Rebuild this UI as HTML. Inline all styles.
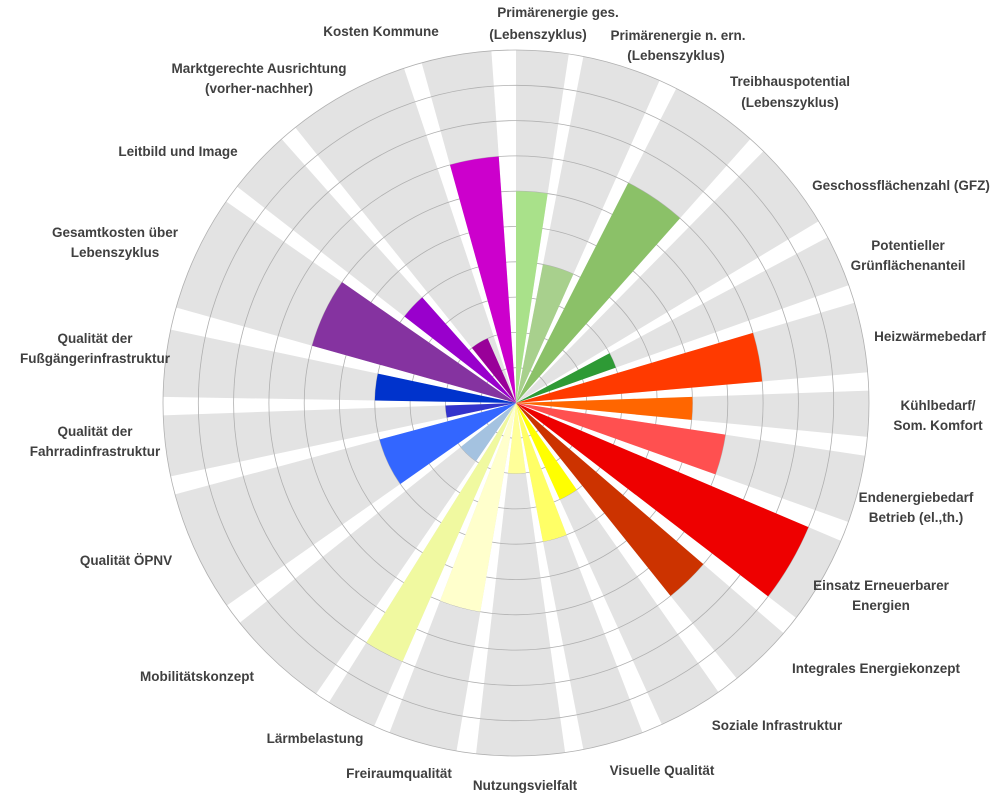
<!DOCTYPE html>
<html><head><meta charset="utf-8"><style>
html,body{margin:0;padding:0;background:#fff;}
svg text{font-family:"Liberation Sans",sans-serif;font-weight:bold;font-size:13.5px;fill:#404040;text-anchor:middle;}
</style></head><body>
<svg id="s" width="994" height="800" viewBox="0 0 994 800" xmlns="http://www.w3.org/2000/svg">
<g id="gray"></g><g id="rings"></g><g id="bars"></g>
<g>
<text x="558" y="17">Primärenergie ges.</text><text x="538" y="39">(Lebenszyklus)</text>
<text x="678" y="40">Primärenergie n. ern.</text><text x="676" y="60">(Lebenszyklus)</text>
<text x="790" y="86">Treibhauspotential</text><text x="790" y="107">(Lebenszyklus)</text>
<text x="901" y="190">Geschossflächenzahl (GFZ)</text>
<text x="908" y="250">Potentieller</text><text x="908" y="270">Grünflächenanteil</text>
<text x="930" y="341">Heizwärmebedarf</text>
<text x="938" y="410">Kühlbedarf/</text><text x="938" y="430">Som. Komfort</text>
<text x="916" y="502">Endenergiebedarf</text><text x="916" y="522">Betrieb (el.,th.)</text>
<text x="881" y="590">Einsatz Erneuerbarer</text><text x="881" y="610">Energien</text>
<text x="876" y="673">Integrales Energiekonzept</text>
<text x="777" y="730">Soziale Infrastruktur</text>
<text x="662" y="775">Visuelle Qualität</text>
<text x="525" y="790">Nutzungsvielfalt</text>
<text x="399" y="778">Freiraumqualität</text>
<text x="315" y="743">Lärmbelastung</text>
<text x="197" y="681">Mobilitätskonzept</text>
<text x="126" y="565">Qualität ÖPNV</text>
<text x="95" y="436">Qualität der</text><text x="95" y="456">Fahrradinfrastruktur</text>
<text x="95" y="343">Qualität der</text><text x="95" y="363">Fußgängerinfrastruktur</text>
<text x="115" y="237">Gesamtkosten über</text><text x="115" y="257">Lebenszyklus</text>
<text x="178" y="156">Leitbild und Image</text>
<text x="259" y="73">Marktgerechte Ausrichtung</text><text x="259" y="93">(vorher-nachher)</text>
<text x="381" y="36">Kosten Kommune</text>
</g>
</svg>
<script>
var cx=516,cy=403,U=35.3,R=353;
var S=[[0,8.6,6,"#a9e18a"],[11,24,4,"#a8d08d"],[27,41.6,7,"#8bc168"],[44.5,59,0,"#2e9a35"],
[62,70.5,3,"#2e9a35"],[73.5,85,7,"#ff3a00"],[88,95.5,5,"#ff6600"],[98.6,109.7,6,"#ff5050"],
[113,127.5,9,"#ee0000"],[130.7,141.3,7,"#cc3300"],[145,155.6,3,"#ffff00"],[159,169,4,"#ffff66"],
[172,186.5,2,"#ffff99"],[189.7,201,6,"#ffffcc"],[203.7,212,8,"#f0f9a0"],[214.5,231.5,2,"#a4c2e0"],
[235,255,4,"#3366ff"],[258,268,2,"#3333cc"],[271,282,4,"#0033cc"],[285.7,304.8,6,"#8533a0"],
[307.8,318.4,4,"#9900cc"],[321.3,336.3,2,"#990099",341.5],[344.5,356,7,"#cc00cc"]];
function pt(a,r){a=a*Math.PI/180;return [(cx+r*Math.sin(a)).toFixed(2),(cy-r*Math.cos(a)).toFixed(2)];}
function wedge(a0,a1,r){var p=pt(a0,r),q=pt(a1,r);return "M"+cx+" "+cy+"L"+p[0]+" "+p[1]+"A"+r+" "+r+" 0 0 1 "+q[0]+" "+q[1]+"Z";}
var ns="http://www.w3.org/2000/svg";
function add(g,tag,at){var e=document.createElementNS(ns,tag);for(var k in at)e.setAttribute(k,at[k]);document.getElementById(g).appendChild(e);}
S.forEach(function(s){add("gray","path",{d:wedge(s[0],s[4]||s[1],R),fill:"#e3e3e3"});});
for(var i=1;i<=10;i++)add("rings","circle",{cx:cx,cy:cy,r:i*U,fill:"none",stroke:"#b0b0b0","stroke-width":0.8});
S.forEach(function(s){if(s[2]>0)add("bars","path",{d:wedge(s[0],s[1],s[2]*U),fill:s[3]});});
</script>
</body></html>
